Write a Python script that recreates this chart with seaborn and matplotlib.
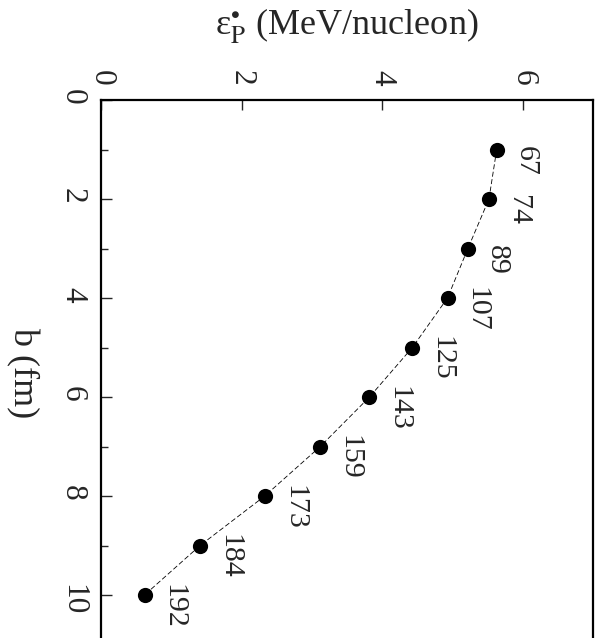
import matplotlib
matplotlib.use("Agg")
import matplotlib.pyplot as plt
import seaborn as sns
import pandas as pd
from matplotlib.ticker import MultipleLocator

# data read from the (rotated) chart
b_fm = [1, 2, 3, 4, 5, 6, 7, 8, 9, 10]
eps_p = [5.63, 5.52, 5.22, 4.93, 4.43, 3.82, 3.12, 2.33, 1.41, 0.62]
point_labels = ["67", "74", "89", "107", "125", "143", "159", "173", "184", "192"]
eps_ticks = [0, 2, 4, 6]
b_ticks = [0, 2, 4, 6, 8, 10]

df = pd.DataFrame({"b": b_fm, "eps": eps_p, "lab": point_labels})

sns.set_theme(style="white")
plt.rcParams["font.family"] = ["Liberation Serif", "DejaVu Serif"]
plt.rcParams["mathtext.fontset"] = "stix"

fig = plt.figure(figsize=(6.06, 6.38), dpi=100)
W, H = 606, 638
left, right, top = 101, 593, 100
px_per_b = 49.5
bmax = 11
bottom = top + bmax * px_per_b
ax = fig.add_axes([left / W, (H - bottom) / H, (right - left) / W, (bottom - top) / H])

sns.lineplot(data=df, x="eps", y="b", sort=False, estimator=None, ax=ax,
             color="black", lw=0.6, linestyle=(0, (6, 3)))
sns.scatterplot(data=df, x="eps", y="b", ax=ax, color="black", s=120,
                edgecolor="black", linewidth=0, zorder=3)

for e, b, t in zip(df["eps"], df["b"], df["lab"]):
    ax.annotate(t, (e, b), xytext=(21, -8), textcoords="offset points",
                rotation=-90, ha="center", va="center", fontsize=21.5)

ax.set_xlim(0, 7)
ax.set_ylim(bmax, 0)
ax.xaxis.tick_top()
ax.xaxis.set_label_position("top")
ax.set_xticks(eps_ticks)
ax.set_yticks(b_ticks)
ax.yaxis.set_minor_locator(MultipleLocator(1))

ax.tick_params(axis="x", which="major", direction="in", length=7, width=1,
               labelsize=22.5, labelrotation=-90, pad=10, top=True, bottom=False)
ax.tick_params(axis="y", which="major", direction="in", length=8, width=1,
               labelsize=22.5, labelrotation=-90, pad=10, left=True, right=False)
ax.tick_params(axis="y", which="minor", direction="in", length=5, width=1,
               left=True, right=False)

ax.set_xlabel(r"ε$^{\bullet}_{\mathrm{P}}$ (MeV/nucleon)", fontsize=26)
ax.xaxis.set_label_coords(0.5, 1 + 74 / (bottom - top))
ax.xaxis.label.set_va("center")
ax.set_ylabel("b (fm)", fontsize=26, rotation=-90)
ax.yaxis.set_label_coords((22 - left) / (right - left), 0.5)
ax.yaxis.label.set_va("center")

for s in ["left", "top", "right"]:
    ax.spines[s].set_color("black")
    ax.spines[s].set_linewidth(1.6)
ax.spines["bottom"].set_visible(False)

fig.savefig("out.png", dpi=100, facecolor="white")
